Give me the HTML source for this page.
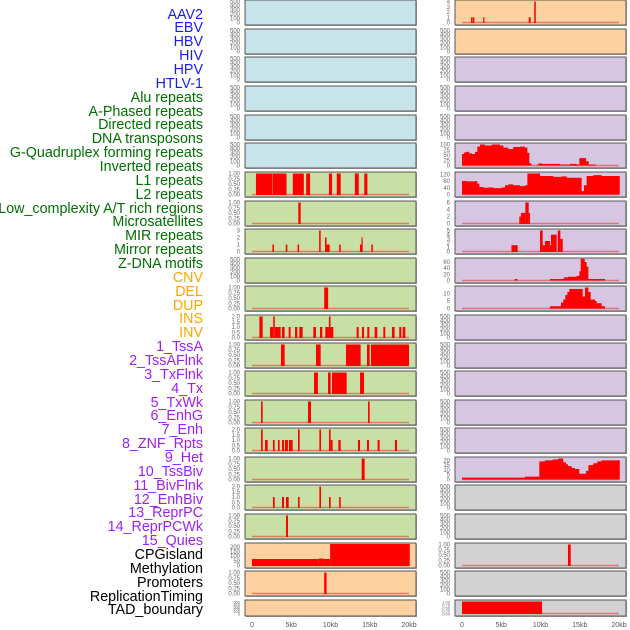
<!DOCTYPE html>
<html><head><meta charset="utf-8"><style>
body{margin:0;background:#fff;width:630px;height:630px;overflow:hidden;font-family:"Liberation Sans",sans-serif}
#labels div{position:absolute;right:427px;font-size:14.3px;line-height:14px;white-space:nowrap}
</style></head><body>
<div id="labels"></div>
<svg id="chart" width="630" height="630" style="position:absolute;left:0;top:0"></svg>
<script>
const trackNames=["AAV2","EBV","HBV","HIV","HPV","HTLV-1","Alu repeats","A-Phased repeats","Directed repeats","DNA transposons","G-Quadruplex forming repeats","Inverted repeats","L1 repeats","L2 repeats","Low_complexity A/T rich regions","Microsatellites","MIR repeats","Mirror repeats","Z-DNA motifs","CNV","DEL","DUP","INS","INV","1_TssA","2_TssAFlnk","3_TxFlnk","4_Tx","5_TxWk","6_EnhG","7_Enh","8_ZNF_Rpts","9_Het","10_TssBiv","11_BivFlnk","12_EnhBiv","13_ReprPC","14_ReprPCWk","15_Quies","CPGisland","Methylation","Promoters","ReplicationTiming","TAD_boundary"];
const trackGroups=["b","b","b","b","b","b","g","g","g","g","g","g","g","g","g","g","g","g","g","o","o","o","o","o","p","p","p","p","p","p","p","p","p","p","p","p","p","p","p","k","k","k","k","k"];
const xTickKb=[0,5,10,15,20];
const xTickLabels=["0","5kb","10kb","15kb","20kb"];
const leftBg=["b","b","b","b","b","b","g","g","g","g","g","g","g","g","g","g","g","g","g","o","o","o"];
const rightBg=["o","o","p","p","p","p","p","p","p","p","p","p","p","p","p","p","p","k","k","k","k","k"];
const L1Bars=[[0.5,2.55,1],[2.6,4.4,1],[5.2,6.6,1],[6.9,7.4,1],[9.8,10.2,1],[10.8,11.3,1],[13.1,13.6,1],[14.3,14.7,1]];
const L2Bars=[[5.9,6.2,1]];
const lowCompBars=[[2.6,2.8,1],[4.3,4.5,1],[5.8,6.0,1],[8.55,8.75,3],[9.3,9.5,2],[9.5,9.9,1],[11.1,11.3,1],[13.75,13.95,1],[13.95,14.1,2],[15.2,15.4,1]];
const row10Bars=[[9.2,9.7,1]];
const insBars=[[0.94,1.36,2],[2.29,2.7,1],[2.7,2.9,2],[2.9,3.65,1],[3.82,4.16,1],[4.67,4.92,1],[5.48,5.77,1],[6.03,6.45,1],[7.81,8.15,1],[8.66,8.96,1],[9.34,9.8,1],[9.8,10.0,2],[10.0,10.36,1],[13.33,13.59,1],[14.01,14.27,1],[14.69,14.95,1],[15.62,15.96,1],[16.73,16.98,1],[17.83,18.17,1],[18.76,19.02,1],[19.19,19.53,1]];
const tssABars=[[3.69,4.16,1],[8.15,8.75,1],[11.97,13.84,1],[14.65,14.99,1],[15.16,20.0,1]];
const tssFlnkBars=[[7.9,8.4,1],[9.68,10.02,1],[10.19,12.06,1],[13.76,14.27,1]];
const txFlnkBars=[[1.15,1.36,1],[7.13,7.52,1],[14.78,14.99,1]];
const txBars=[[1.15,1.36,2],[1.66,2.0,1],[2.67,2.89,1],[3.31,3.52,1],[3.82,4.08,1],[4.2,4.58,1],[4.71,5.18,1],[5.86,6.07,2],[8.58,8.79,2],[9.81,10.02,2],[10.02,10.27,1],[11.0,11.3,1],[13.5,13.76,1],[14.65,14.9,1],[16.0,16.26,1],[18.21,18.47,1]];
const txWkBars=[[13.97,14.35,1]];
const enhGBars=[[2.67,2.89,1],[3.82,4.08,1],[4.33,4.67,1],[5.86,6.07,1],[8.58,8.79,2],[9.81,10.02,1],[11.1,11.3,1]];
const enhBars=[[4.33,4.58,1]];
const cpgBars=[[0,8.5,70],[8.5,9.1,75],[9.1,9.95,70],[9.95,20.1,230]];
const methBars=[[9.2,9.5,1]];
const aavBars=[[1.15,1.35,1],[1.4,1.57,1],[2.7,2.85,1],[8.5,8.75,1],[9.2,9.4,4]];
const gquadX=[0,0.25,0.51,0.93,1.27,1.66,1.95,2.29,2.93,3.78,4.84,5.27,5.9,6.54,7.39,8.03,8.33,8.58,8.84,9.52,9.77,10.15,12.49,13.76,14.61,14.95,15.8,16.14,17.03];
const gquadV=[55,62,65,58,55,65,90,100,95,100,95,85,78,88,90,85,60,10,0,5,10,8,5,8,5,35,20,5,0];
const l1X=[0,0.59,1.66,1.95,2.21,2.72,3.35,3.99,5.05,5.48,5.9,6.54,7.39,8.03,8.33,9.94,11.64,12.7,13.33,13.97,15.24,15.54,15.88,16.73,17.79,20.1];
const l1V=[80,78,80,65,45,40,42,38,42,55,60,55,50,55,125,110,105,108,100,100,20,55,110,115,110,0];
const lowCompRBars=[[7.3,7.5,2],[7.5,8.07,3],[8.07,8.5,6],[8.5,8.66,3]];
const mirRBars=[[6.3,7.09,1.5],[9.94,10.28,5],[10.28,10.57,1.5],[10.57,11.2,2.5],[11.2,11.33,1.5],[11.33,12.06,4],[12.19,12.53,5],[12.53,12.83,3]];
const zdnaX=[6.71,7.09,11.2,12.96,13.5,14.61,14.95,15.12,15.63,15.88,16.1,18.22];
const zdnaV=[5,0,5,10,12,15,30,70,60,45,5,0];
const delX=[11.2,12.61,12.9,13.16,13.42,13.67,15.37,15.67,16.1,16.39,16.95,17.16,17.79,18.22];
const delV=[1.5,4,6,9,11,13,8,14,11,6,5,3.5,1.5,0];
const hetX=[0,8.03,9.85,10.57,11.55,12.27,12.9,13.25,13.5,13.97,14.4,14.95,15.8,16.1,16.73,17.24,17.79,20.1];
const hetV=[2,3,19,20,21,22,18,16,14,12,11,6,9,15,17,19,20,0];
const cpgRBars=[[13.5,13.85,1]];
const tadRBars=[[0,10.2,1]];

const T500=[0,100,200,300,400,500], L500=["0","100","200","300","400","500"];
const T1=[0,0.25,0.5,0.75,1], L1t=["0.00","0.25","0.50","0.75","1.00"];
const T2=[0,0.5,1,1.5,2], L2t=["0.0","0.5","1.0","1.5","2.0"];
const T3=[0,1,2,3], L3t=["0","1","2","3"];

const colors={b:"#1a1aff",g:"#007000",o:"#ffa500",p:"#a020f0",k:"#000"};
const bgs={b:"#c8e4eb",g:"#c8e0a5",o:"#fed2a0",p:"#d6c6e2",k:"#d2d2d2"};
const lab=document.getElementById('labels');
trackNames.forEach((n,i)=>{const d=document.createElement('div');


d.textContent=n;d.style.top=(7.5+i*13.86)+'px';d.style.color=colors[trackGroups[i]];lab.appendChild(d);});

const svg=document.getElementById('chart');const NS="http://www.w3.org/2000/svg";
function el(t,a,p){const e=document.createElementNS(NS,t);for(const k in a)e.setAttribute(k,a[k]);(p||svg).appendChild(e);return e;}
const rowTops=[0,29,57,86,115,143,172,201,229,258,286,315,343,371,400,428,457,485,514,543,571,600];
const cols=[{x0:245,x1:416,d0:252},{x0:455,x1:626,d0:462}];
const kbScale=7.85;
function xPos(c,kb){return cols[c].d0+kb*kbScale;}
const empty={ticks:T500,labels:L500,ymax:500,base:false};
const leftSpecs=[empty,empty,empty,empty,empty,empty,
{ticks:T1,labels:L1t,ymax:1,bars:L1Bars,base:true},
{ticks:T1,labels:L1t,ymax:1,bars:L2Bars,base:true},
{ticks:T3,labels:L3t,ymax:3,bars:lowCompBars,base:true},
empty,
{ticks:T1,labels:L1t,ymax:1,bars:row10Bars,base:true},
{ticks:T2,labels:L2t,ymax:2,bars:insBars,base:true},
{ticks:T1,labels:L1t,ymax:1,bars:tssABars,base:true},
{ticks:T1,labels:L1t,ymax:1,bars:tssFlnkBars,base:true},
{ticks:T1,labels:L1t,ymax:1,bars:txFlnkBars,base:true},
{ticks:T2,labels:L2t,ymax:2,bars:txBars,base:true},
{ticks:T1,labels:L1t,ymax:1,bars:txWkBars,base:true},
{ticks:T2,labels:L2t,ymax:2,bars:enhGBars,base:true},
{ticks:T1,labels:L1t,ymax:1,bars:enhBars,base:true},
{ticks:[0,50,100,150,200],labels:["0","50","100","150","200"],ymax:225,bars:cpgBars,base:true},
{ticks:T1,labels:L1t,ymax:1,bars:methBars,base:true},
empty];
const rightSpecs=[
{ticks:[0,1,2,3,4],labels:["0","1","2","3","4"],ymax:4,bars:aavBars,base:true},
empty,empty,empty,empty,
{ticks:[0,25,50,75,100],labels:["0","25","50","75","100"],ymax:100,sx:gquadX,sv:gquadV,base:true},
{ticks:[0,40,80,120],labels:["0","40","80","120"],ymax:125,sx:l1X,sv:l1V,base:true},
{ticks:[0,2,4,6],labels:["0","2","4","6"],ymax:6,bars:lowCompRBars,base:true},
{ticks:[0,1,2,3,4,5],labels:["0","1","2","3","4","5"],ymax:5,bars:mirRBars,base:true},
{ticks:[0,20,40,60],labels:["0","20","40","60"],ymax:68,sx:zdnaX,sv:zdnaV,base:true},
{ticks:[0,5,10],labels:["0","5","10"],ymax:14,sx:delX,sv:delV,base:true},
empty,empty,empty,empty,empty,
{ticks:[0,5,10,15,20],labels:["0","5","10","15","20"],ymax:22,sx:hetX,sv:hetV,base:true},
empty,empty,
{ticks:T1,labels:L1t,ymax:1,bars:cpgRBars,base:true},
empty,
{ticks:T1,labels:L1t,ymax:1,bars:tadRBars,base:true}];
const bgCols=[leftBg,rightBg];
[leftSpecs,rightSpecs].forEach((specs,c)=>{
 specs.forEach((s,r)=>{
  const top=rowTops[r],h=(r===21?16:25);const C=cols[c];
  const g=el('g',{});
  
  
  el('rect',{x:C.x0+1,y:top+1,width:C.x1-C.x0,height:h,fill:'#aaa'},g);
  el('rect',{x:C.x0,y:top,width:C.x1-C.x0,height:h,fill:bgs[bgCols[c][r]],stroke:'#555','stroke-width':1},g);
  const yb=top+h-2.5, yt=top+1.5;
  const yPos=v=>Math.max(top+0.5,yb-(v/s.ymax)*(yb-yt));
  s.ticks.forEach((t,i)=>{const tx=el('text',{x:C.x0-5,y:yPos(t)+2,'font-size':(r===21?4:6),fill:'#666','text-anchor':'end'},g);tx.textContent=s.labels[i];});
  if(s.base){el('line',{x1:xPos(c,0),x2:xPos(c,20),y1:yb,y2:yb,stroke:'rgba(230,60,60,0.6)','stroke-width':1.5},g);}
  if(s.bars)s.bars.forEach(b=>{const y=yPos(b[2]);
   const rc=el('rect',{x:xPos(c,b[0]),y:y,width:Math.max(1.2,(b[1]-b[0])*kbScale),height:yb-y+0.5,fill:'#ff0000'},g);
   
   });
  if(s.sx){let d='M'+xPos(c,s.sx[0])+','+yb;
   for(let i=0;i<s.sx.length;i++){const y=yPos(s.sv[i]);d+=' L'+xPos(c,s.sx[i])+','+y;const nx=i+1<s.sx.length?s.sx[i+1]:s.sx[i];d+=' L'+xPos(c,nx)+','+y;}
   d+=' L'+xPos(c,s.sx[s.sx.length-1])+','+yb+'Z';
   const p=el('path',{d:d,fill:'#ff0000'},g);
   
   }
 });
 xTickKb.forEach((k,i)=>{const t=el('text',{x:xPos(c,k),y:627,'font-size':7,fill:'#555','text-anchor':'middle'});
  
  
  t.textContent=xTickLabels[i];});
});
</script>
</body></html>
